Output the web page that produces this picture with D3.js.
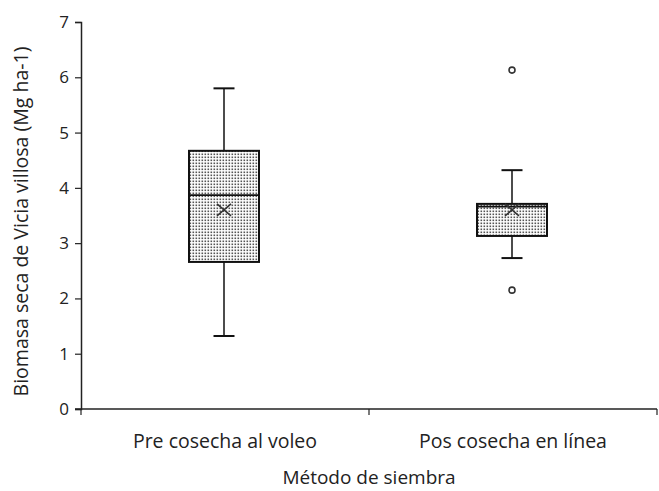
<!DOCTYPE html>
<html>
<head>
<meta charset="utf-8">
<script src="https://cdn.jsdelivr.net/npm/d3@7"></script>
<style>
  body { margin: 0; background: #fff; }
  svg text { font-family: "Open Sans", "Noto Sans", sans-serif; fill: #222; }
</style>
</head>
<body>
<svg id="chart" width="659" height="491"></svg>
<script>
// Sowing methods (categories)
const categories = ["Pre cosecha al voleo", "Pos cosecha en línea"];
// Box-plot summaries per category (Mg ha-1)
const whiskerLow  = [1.32, 2.73];
const quartile1   = [2.66, 3.13];
const medians     = [3.87, 3.66];
const quartile3   = [4.67, 3.71];
const whiskerHigh = [5.80, 4.32];
const means       = [3.60, 3.60];
// Outlier points: [category index, value]
const outliers = [[1, 6.13], [1, 2.15]];
const yTicks = [0, 1, 2, 3, 4, 5, 6, 7];

const svg = d3.select("#chart");
const margin = { left: 81, right: 2, top: 22, bottom: 82 };
const W = 659, H = 491;

const x = d3.scaleBand().domain(categories)
  .range([margin.left, W - margin.right]).paddingInner(0).paddingOuter(0);
const y = d3.scaleLinear().domain([0, 7]).range([H - margin.bottom, margin.top]);

// Dotted fill pattern for the boxes
const defs = svg.append("defs");
const pat = defs.append("pattern").attr("id", "dots")
  .attr("width", 3).attr("height", 3).attr("patternUnits", "userSpaceOnUse");
pat.append("rect").attr("width", 3).attr("height", 3).attr("fill", "#fff");
pat.append("rect").attr("x", 0.5).attr("y", 0.5).attr("width", 1.6).attr("height", 1.6).attr("fill", "#555");

// Y axis
const yAxis = svg.append("g").attr("transform", `translate(${margin.left},0)`)
  .call(d3.axisLeft(y).tickValues(yTicks).tickSize(6).tickPadding(6).tickFormat(d3.format("d")));
yAxis.select(".domain").attr("stroke", "#222").attr("stroke-width", 1.5);
yAxis.selectAll(".tick line").attr("stroke", "#222").attr("stroke-width", 1.2);
yAxis.selectAll(".tick text").style("font-size", "17px").attr("fill", "#222")
  .style("font-family", '"Open Sans", sans-serif');

// X axis with ticks at category boundaries
const xAxisY = y(0);
const boundaries = [x.range()[0], x(categories[1]), x.range()[1]];
svg.append("line").attr("x1", x.range()[0] - 6).attr("x2", x.range()[1])
  .attr("y1", xAxisY).attr("y2", xAxisY).attr("stroke", "#222").attr("stroke-width", 1.5);
svg.selectAll(".xtick").data(boundaries).join("line")
  .attr("x1", d => d).attr("x2", d => d)
  .attr("y1", xAxisY).attr("y2", xAxisY + 6)
  .attr("stroke", "#222").attr("stroke-width", 1.2);
svg.selectAll(".xlabel").data(categories).join("text")
  .attr("x", d => x(d) + x.bandwidth() / 2).attr("y", 448)
  .attr("text-anchor", "middle").style("font-size", "19.5px").text(d => d);

// Axis titles
svg.append("text").attr("x", (x.range()[0] + x.range()[1]) / 2).attr("y", 484)
  .attr("text-anchor", "middle").style("font-size", "19px").text("Método de siembra");
svg.append("text")
  .attr("transform", `translate(28,${(y(0) + y(7)) / 2 + 6}) rotate(-90)`)
  .attr("text-anchor", "middle").style("font-size", "19.5px")
  .text("Biomasa seca de Vicia villosa (Mg ha-1)");

// Boxes
const boxW = 70, capW = 21;
const cx = i => x(categories[i]) + x.bandwidth() / 2 - 1;
const g = svg.append("g");
categories.forEach((c, i) => {
  const xc = cx(i);
  // whiskers
  g.append("line").attr("x1", xc).attr("x2", xc)
    .attr("y1", y(whiskerHigh[i])).attr("y2", y(quartile3[i]))
    .attr("stroke", "#111").attr("stroke-width", 1.5);
  g.append("line").attr("x1", xc).attr("x2", xc)
    .attr("y1", y(quartile1[i])).attr("y2", y(whiskerLow[i]))
    .attr("stroke", "#111").attr("stroke-width", 1.5);
  [whiskerHigh[i], whiskerLow[i]].forEach(v => {
    g.append("line").attr("x1", xc - capW / 2).attr("x2", xc + capW / 2)
      .attr("y1", y(v)).attr("y2", y(v)).attr("stroke", "#111").attr("stroke-width", 2);
  });
  // box
  g.append("rect").attr("x", xc - boxW / 2).attr("width", boxW)
    .attr("y", y(quartile3[i])).attr("height", y(quartile1[i]) - y(quartile3[i]))
    .attr("fill", "url(#dots)").attr("stroke", "#111").attr("stroke-width", 2);
  // median
  g.append("line").attr("x1", xc - boxW / 2).attr("x2", xc + boxW / 2)
    .attr("y1", y(medians[i])).attr("y2", y(medians[i]))
    .attr("stroke", "#111").attr("stroke-width", 1.8);
  // mean marker
  const my = y(means[i]), s = 7, sy = 6;
  g.append("path")
    .attr("d", `M${xc - s},${my - sy}L${xc + s},${my + sy}M${xc - s},${my + sy}L${xc + s},${my - sy}`)
    .attr("stroke", "#333").attr("stroke-width", 1.6).attr("fill", "none");
});

// Outliers
g.selectAll(".outlier").data(outliers).join("circle")
  .attr("cx", d => cx(d[0])).attr("cy", d => y(d[1])).attr("r", 3)
  .attr("fill", "#fff").attr("stroke", "#333").attr("stroke-width", 1.6);
</script>
</body>
</html>
